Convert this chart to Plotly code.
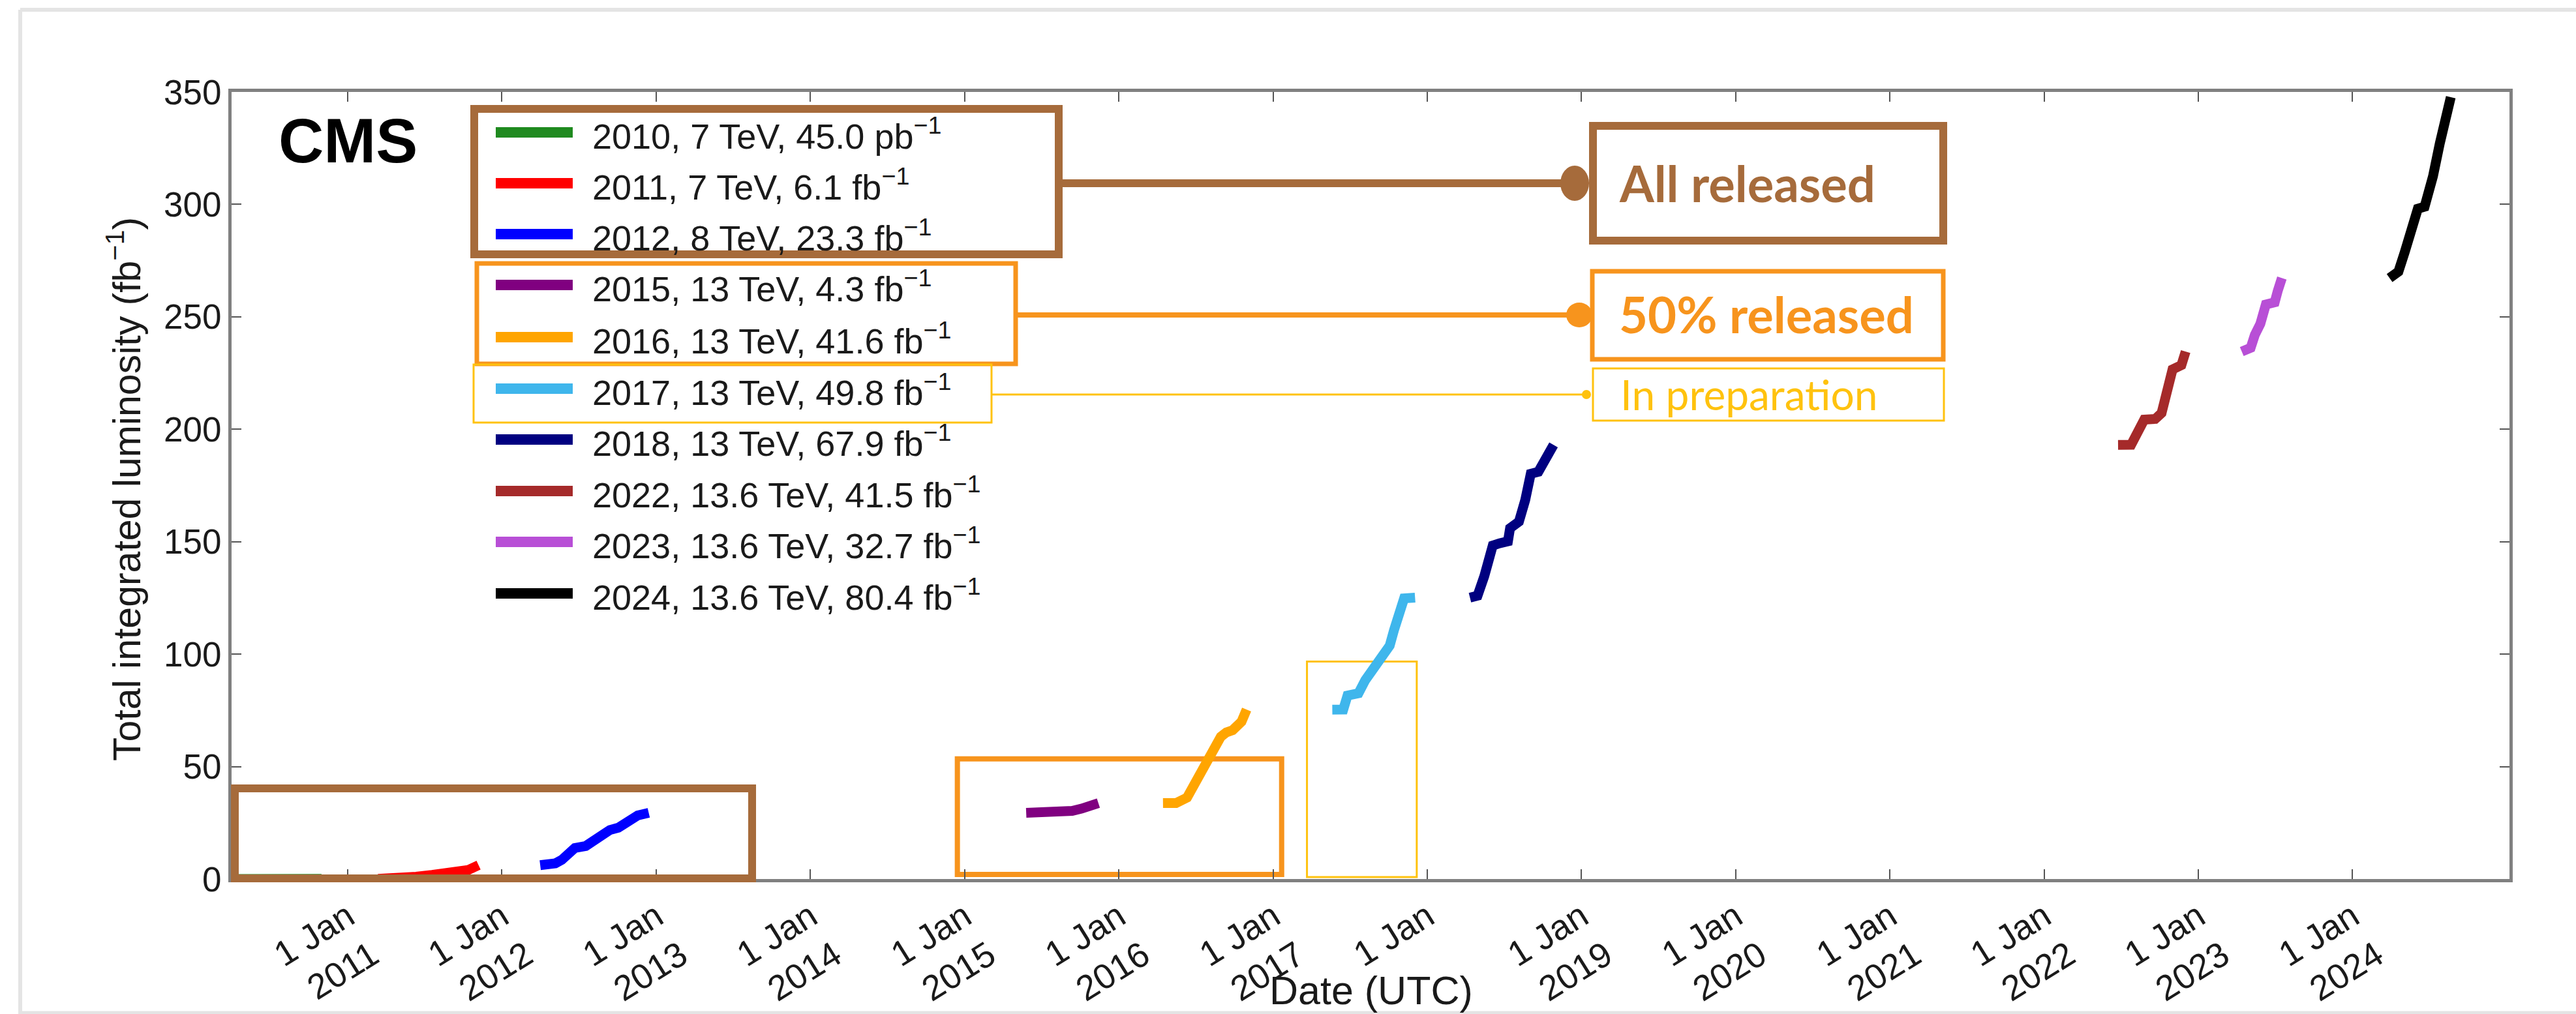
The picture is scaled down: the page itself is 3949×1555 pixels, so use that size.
import plotly.graph_objects as go

# ---------------- data (cumulative integrated luminosity, fb^-1) ----------------
d2010 = ["2010-03-30", "2010-05-15", "2010-07-01", "2010-08-15", "2010-09-20", "2010-10-15", "2010-10-31"]
v2010 = [0.0, 0.0002, 0.0009, 0.003, 0.01, 0.03, 0.045]

d2011 = ["2011-03-14", "2011-05-01", "2011-06-12", "2011-07-20", "2011-09-07", "2011-10-13", "2011-11-07"]
v2011 = [0.05, 0.25, 1.0, 1.8, 3.0, 4.0, 6.15]

d2012 = ["2012-04-01", "2012-05-07", "2012-05-22", "2012-06-22", "2012-07-18", "2012-08-07",
         "2012-09-13", "2012-10-03", "2012-11-18", "2012-12-14"]
v2012 = [6.15, 7.0, 8.5, 13.8, 14.7, 17.5, 21.8, 22.8, 28.3, 29.45]

d2015 = ["2015-05-27", "2015-07-20", "2015-08-26", "2015-09-13", "2015-10-05", "2015-10-27", "2015-11-14"]
v2015 = [29.45, 29.6, 29.9, 30.3, 31.3, 32.6, 33.75]

d2016 = ["2016-04-15", "2016-05-16", "2016-06-11", "2016-07-01", "2016-07-22", "2016-08-11",
         "2016-08-30", "2016-09-12", "2016-09-27", "2016-10-18", "2016-10-30"]
v2016 = [33.75, 33.8, 36.2, 43.0, 50.7, 56.5, 63.3, 65.2, 66.2, 70.0, 75.35]

d2017 = ["2017-05-21", "2017-06-16", "2017-06-26", "2017-07-22", "2017-08-07", "2017-08-27",
         "2017-09-16", "2017-10-04", "2017-10-14", "2017-10-25", "2017-11-07", "2017-12-03"]
v2017 = [75.35, 75.4, 81.6, 82.6, 88.4, 94.2, 99.0, 103.8, 110.6, 118.4, 124.8, 125.15]

d2018 = ["2018-04-12", "2018-04-30", "2018-05-16", "2018-06-05", "2018-06-21", "2018-07-11",
         "2018-07-16", "2018-08-06", "2018-08-21", "2018-09-03", "2018-09-21", "2018-10-06", "2018-10-27"]
v2018 = [125.15, 126.0, 134.7, 148.3, 149.3, 150.2, 156.0, 158.9, 168.6, 180.2, 181.1, 187.0, 193.05]

d2022 = ["2022-06-25", "2022-07-26", "2022-08-26", "2022-09-21", "2022-10-06", "2022-10-27",
         "2022-11-01", "2022-11-22", "2022-12-02"]
v2022 = [193.05, 193.1, 204.3, 204.6, 207.2, 220.8, 226.6, 228.5, 234.55]

d2023 = ["2023-04-14", "2023-05-05", "2023-05-15", "2023-05-28", "2023-06-10", "2023-07-01",
         "2023-07-08", "2023-07-18"]
v2023 = [234.55, 236.2, 242.0, 246.9, 255.5, 256.5, 261.4, 267.25]

d2024 = ["2024-03-29", "2024-04-19", "2024-05-04", "2024-05-15", "2024-05-30", "2024-06-04",
         "2024-06-20", "2024-06-30", "2024-07-10", "2024-07-26", "2024-08-11", "2024-08-21"]
v2024 = [267.25, 270.1, 278.8, 284.6, 294.2, 298.1, 299.0, 304.8, 312.6, 327.1, 340.6, 347.65]

series_dates = [d2010, d2011, d2012, d2015, d2016, d2017, d2018, d2022, d2023, d2024]
series_values = [v2010, v2011, v2012, v2015, v2016, v2017, v2018, v2022, v2023, v2024]
series_labels = [
    "2010, 7 TeV, 45.0 pb<sup>−1</sup>",
    "2011, 7 TeV, 6.1 fb<sup>−1</sup>",
    "2012, 8 TeV, 23.3 fb<sup>−1</sup>",
    "2015, 13 TeV, 4.3 fb<sup>−1</sup>",
    "2016, 13 TeV, 41.6 fb<sup>−1</sup>",
    "2017, 13 TeV, 49.8 fb<sup>−1</sup>",
    "2018, 13 TeV, 67.9 fb<sup>−1</sup>",
    "2022, 13.6 TeV, 41.5 fb<sup>−1</sup>",
    "2023, 13.6 TeV, 32.7 fb<sup>−1</sup>",
    "2024, 13.6 TeV, 80.4 fb<sup>−1</sup>",
]
series_colors = ["#1f8a1f", "#ff0000", "#0000ff", "#800080", "#ffa500",
                 "#3fb6ec", "#000080", "#a52a2a", "#b84fd6", "#000000"]

tick_years = ["2011", "2012", "2013", "2014", "2015", "2016", "2017",
              "2018", "2019", "2020", "2021", "2022", "2023", "2024"]
# the year under the 2018 tick is hidden behind the "Date (UTC)" title in the original
tick_year_text = ["2011", "2012", "2013", "2014", "2015", "2016", "2017",
                  "\u00a0", "2019", "2020", "2021", "2022", "2023", "2024"]
y_ticks = [0, 50, 100, 150, 200, 250, 300, 350]

# ---------------- geometry helpers ----------------
W, H = 3949, 1555
L, R, T, B = 355, 3847, 141, 1348


def px(x):
    return (x - L) / (R - L)


def py(y):
    return (B - y) / (B - T)


BROWN = "#a66b3b"
ORANGE = "#f7941d"
GOLD = "#ffc20e"
TXT = "#1a1a1a"
FONT = "Liberation Sans, Arial, Helvetica, sans-serif"
LATO = "Lato, Open Sans, sans-serif"

fig = go.Figure()
for dts, vals, lab, col in zip(series_dates, series_values, series_labels, series_colors):
    fig.add_trace(go.Scatter(x=dts, y=vals, mode="lines", name=lab,
                             line=dict(color=col, width=15), showlegend=False))

shapes = []
annotations = []

# manual legend (long line samples, like the original)
row_y = [203, 281, 359, 437, 517, 596, 674, 753, 831, 910]
for yy, lab, col in zip(row_y, series_labels, series_colors):
    shapes.append(dict(type="line", xref="paper", yref="paper",
                       x0=px(760), x1=px(878), y0=py(yy), y1=py(yy),
                       line=dict(color=col, width=16), layer="above"))
    annotations.append(dict(text=lab, xref="paper", yref="paper", x=px(906), y=py(yy + 2),
                            xanchor="left", yanchor="middle", showarrow=False,
                            font=dict(family=FONT, size=54, color=TXT)))

# CMS label
annotations.append(dict(text="<b>CMS</b>", xref="paper", yref="paper", x=px(533), y=py(215),
                        xanchor="center", yanchor="middle", showarrow=False,
                        font=dict(family=FONT, size=96, color="#000000")))


def rect(x0, y0, x1, y1, color, width, layer="above"):
    shapes.append(dict(type="rect", xref="paper", yref="paper",
                       x0=px(x0), x1=px(x1), y0=py(y0), y1=py(y1),
                       line=dict(color=color, width=width), layer=layer))


def hline(x0, x1, y, color, width):
    shapes.append(dict(type="line", xref="paper", yref="paper",
                       x0=px(x0), x1=px(x1), y0=py(y), y1=py(y),
                       line=dict(color=color, width=width), layer="above"))


def dot(cx, cy, rx, ry, color):
    shapes.append(dict(type="circle", xref="paper", yref="paper",
                       x0=px(cx - rx), x1=px(cx + rx), y0=py(cy - ry), y1=py(cy + ry),
                       fillcolor=color, line=dict(color=color, width=0), layer="above"))


# legend group boxes + connectors + labels
rect(727, 167, 1623, 390, BROWN, 12)
hline(1623, 2412, 281, BROWN, 12)
dot(2414, 281, 22, 27, BROWN)
rect(2442, 193, 2979, 369, BROWN, 12)
annotations.append(dict(text="<b>All released</b>", xref="paper", yref="paper", x=px(2480), y=py(280),
                        xanchor="left", yanchor="middle", showarrow=False,
                        font=dict(family=LATO, size=76, color=BROWN)))

rect(731, 404, 1557, 558, ORANGE, 7)
hline(1557, 2420, 483, ORANGE, 8)
dot(2421, 483, 20, 19, ORANGE)
rect(2441, 416, 2979, 551, ORANGE, 7)
annotations.append(dict(text="<b>50% released</b>", xref="paper", yref="paper", x=px(2480), y=py(482),
                        xanchor="left", yanchor="middle", showarrow=False,
                        font=dict(family=LATO, size=76, color=ORANGE)))

rect(726, 559, 1520, 648, GOLD, 3)
hline(1520, 2430, 605, GOLD, 3)
dot(2432, 605, 7, 7, GOLD)
rect(2442, 565, 2980, 645, GOLD, 3)
annotations.append(dict(text="In preparation", xref="paper", yref="paper", x=px(2482), y=py(604),
                        xanchor="left", yanchor="middle", showarrow=False,
                        font=dict(family=LATO, size=64, color=GOLD)))

# highlight boxes on the data
rect(360, 1209, 1153, 1347, BROWN, 12)
shapes.append(dict(type="rect", xref="x", yref="y", x0="2014-12-15", x1="2017-01-21", y0=2.0, y1=53.4,
                   line=dict(color=ORANGE, width=8), layer="below"))
shapes.append(dict(type="rect", xref="x", yref="y", x0="2017-03-22", x1="2017-12-07", y0=0.9, y1=96.7,
                   line=dict(color=GOLD, width=3), layer="below"))

# faint slide frame
shapes.append(dict(type="line", xref="paper", yref="paper", x0=px(31), x1=px(3949), y0=py(15), y1=py(15),
                   line=dict(color="#e4e4e4", width=6), layer="below"))
shapes.append(dict(type="line", xref="paper", yref="paper", x0=px(31), x1=px(31), y0=py(15), y1=py(1555),
                   line=dict(color="#e4e4e4", width=6), layer="below"))
shapes.append(dict(type="line", xref="paper", yref="paper", x0=px(31), x1=px(3949), y0=py(1553), y1=py(1553),
                   line=dict(color="#e4e4e4", width=5), layer="below"))

# axis titles
annotations.append(dict(text="Total integrated luminosity (fb<sup>−1</sup>)", xref="paper", yref="paper",
                        x=px(190), y=py(750), xanchor="center", yanchor="middle", textangle=-90,
                        showarrow=False, font=dict(family=FONT, size=59, color=TXT)))
annotations.append(dict(text="Date (UTC)", xref="paper", yref="paper", x=px(2102), y=py(1519),
                        xanchor="center", yanchor="middle", showarrow=False,
                        font=dict(family=FONT, size=61, color=TXT)))

fig.update_layout(
    width=W, height=H,
    margin=dict(l=L, r=W - R, t=T, b=H - B, pad=0, autoexpand=False),
    paper_bgcolor="white", plot_bgcolor="white",
    shapes=shapes, annotations=annotations, showlegend=False,
    xaxis=dict(type="date", range=["2010-04-01", "2025-01-07"], automargin=False,
               tickvals=[y + "-01-01" for y in tick_years],
               ticktext=["1 Jan<br>" + y for y in tick_year_text],
               tickangle=-32, tickfont=dict(family=FONT, size=54, color=TXT),
               ticks="inside", ticklen=15, tickwidth=2, tickcolor="#555555",
               showline=True, linecolor="#808080", linewidth=5, mirror="ticks",
               showgrid=False, zeroline=False),
    yaxis=dict(range=[0, 350], tickvals=y_ticks, automargin=False,
               tickfont=dict(family=FONT, size=53, color=TXT),
               ticks="inside", ticklen=15, tickwidth=2, tickcolor="#555555",
               showline=True, linecolor="#808080", linewidth=5, mirror="ticks",
               showgrid=False, zeroline=False),
)

fig.write_html("out.html", config={"displayModeBar": False},
               post_script="document.body.style.margin='0';document.body.style.overflow='hidden';")
